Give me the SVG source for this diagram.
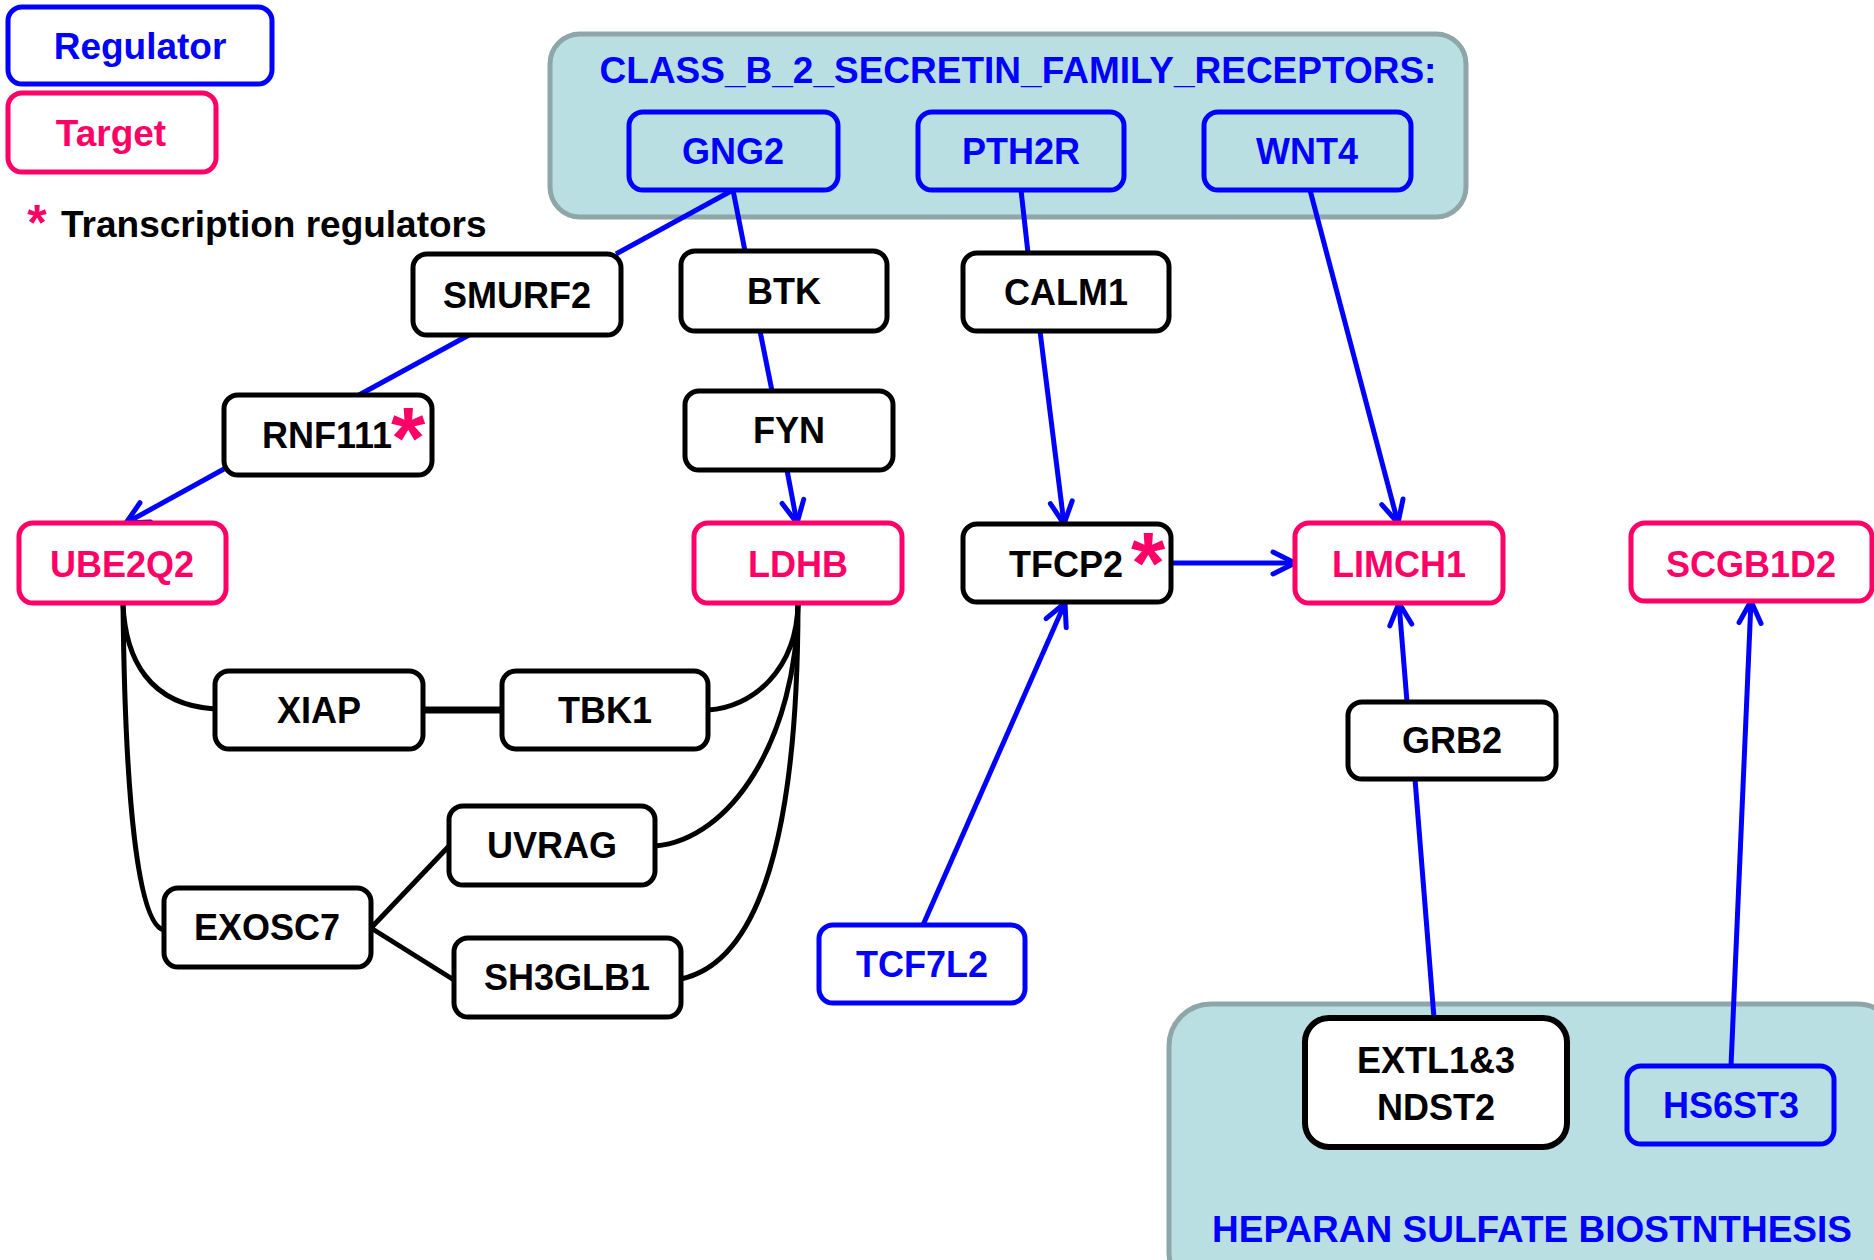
<svg xmlns="http://www.w3.org/2000/svg" width="1874" height="1260" viewBox="0 0 1874 1260">
<defs>
<style>
text{font-family:"Liberation Sans",Arial,sans-serif;font-weight:bold;font-size:36px;text-anchor:middle}
.reg rect{fill:none;stroke:#0000ff;stroke-width:5}
.reg text{fill:#0000ff}
.tgt rect{fill:#ffffff;stroke:#ff0066;stroke-width:5}
.tgt text{fill:#ff0066}
.oth rect{fill:#ffffff;stroke:#000000;stroke-width:5}
.oth text{fill:#000000}
.grp{fill:#b9dfe3;stroke:#8fa6a8;stroke-width:5}
.gtitle{fill:#0000ff;font-size:37px}
text.star{fill:#ff0066;font-size:88px}
.blue{stroke:#0000ff;stroke-width:5;fill:none}
.blk{stroke:#000000;stroke-width:5;fill:none}
</style>
<marker id="arr" viewBox="0 0 28 28" refX="25" refY="14" markerWidth="28" markerHeight="28" markerUnits="userSpaceOnUse" orient="auto">
<path d="M3,3 L25,14 L3,25" fill="none" stroke="#0000ff" stroke-width="5" stroke-linecap="round" stroke-linejoin="round"/>
</marker>
</defs>
<rect width="1874" height="1260" fill="#ffffff"/>

<g id="legend">
<g class="reg"><rect x="8" y="7" width="264" height="77" rx="14"/><text x="140" y="59" style="font-size:37px">Regulator</text></g>
<g class="tgt"><rect x="8" y="93" width="208" height="79" rx="14"/><text x="111" y="146" style="font-size:37px">Target</text></g>
<text x="37" y="240" style="fill:#ff0066;font-size:50px">*</text>
<text x="61" y="237" style="text-anchor:start;font-size:37px;fill:#000">Transcription regulators</text>
</g>

<g id="group-class-b">
<rect class="grp" x="550" y="34" width="916" height="183" rx="30"/>
<text class="gtitle" x="1018" y="83">CLASS_B_2_SECRETIN_FAMILY_RECEPTORS:</text>
</g>
<g id="group-heparan">
<rect class="grp" x="1169" y="1004" width="730" height="290" rx="42"/>
<text class="gtitle" x="1532" y="1242">HEPARAN SULFATE BIOSTNTHESIS</text>
</g>

<g id="connectors">
<line class="blue" x1="733" y1="190" x2="616" y2="254"/>
<line class="blue" x1="469" y1="335" x2="359" y2="395"/>
<line class="blue" x1="224" y1="469" x2="126" y2="523" marker-end="url(#arr)"/>
<line class="blue" x1="733" y1="190" x2="745" y2="251"/>
<line class="blue" x1="760" y1="331" x2="772" y2="391"/>
<line class="blue" x1="787" y1="470" x2="797" y2="523" marker-end="url(#arr)"/>
<line class="blue" x1="1021" y1="190" x2="1028" y2="253"/>
<line class="blue" x1="1040" y1="331" x2="1064" y2="524" marker-end="url(#arr)"/>
<line class="blue" x1="1310" y1="190" x2="1398" y2="523" marker-end="url(#arr)"/>
<line class="blue" x1="1171" y1="563" x2="1295" y2="563" marker-end="url(#arr)"/>
<line class="blue" x1="923" y1="925" x2="1065" y2="603" marker-end="url(#arr)"/>
<line class="blue" x1="1407" y1="702" x2="1399" y2="603" marker-end="url(#arr)"/>
<line class="blue" x1="1434" y1="1018" x2="1415" y2="779"/>
<line class="blue" x1="1731" y1="1066" x2="1751" y2="601" marker-end="url(#arr)"/>
<path class="blk" d="M123,603 C125,660 150,705 215,709"/>
<path class="blk" d="M123,603 C125,800 138,925 164,930"/>
<line class="blk" x1="423" y1="710" x2="502" y2="710" style="stroke-width:7"/>
<path class="blk" d="M708,710 C752,708 797,670 798,603"/>
<path class="blk" d="M655,846 C730,840 797,740 798,603"/>
<path class="blk" d="M681,979 C770,960 798,800 798,603"/>
<line class="blk" x1="371" y1="928" x2="449" y2="846"/>
<line class="blk" x1="371" y1="928" x2="454" y2="980"/>
</g>

<g id="GNG2" class="reg"><rect x="629" y="112" width="209" height="78" rx="14"/><text x="733" y="164">GNG2</text></g>
<g id="PTH2R" class="reg"><rect x="918" y="112" width="206" height="78" rx="14"/><text x="1021" y="164">PTH2R</text></g>
<g id="WNT4" class="reg"><rect x="1204" y="112" width="207" height="78" rx="14"/><text x="1307" y="164">WNT4</text></g>
<g id="SMURF2" class="oth"><rect x="413" y="254" width="208" height="81" rx="14"/><text x="517" y="308">SMURF2</text></g>
<g id="BTK" class="oth"><rect x="681" y="251" width="206" height="80" rx="14"/><text x="784" y="304">BTK</text></g>
<g id="CALM1" class="oth"><rect x="963" y="253" width="206" height="78" rx="14"/><text x="1066" y="305">CALM1</text></g>
<g id="RNF111" class="oth"><rect x="224" y="395" width="208" height="80" rx="14"/><text x="327" y="448">RNF111</text><text class="star" x="408" y="468">*</text></g>
<g id="FYN" class="oth"><rect x="685" y="391" width="208" height="79" rx="14"/><text x="789" y="443">FYN</text></g>
<g id="UBE2Q2" class="tgt"><rect x="19" y="523" width="207" height="80" rx="14"/><text x="122" y="577">UBE2Q2</text></g>
<g id="LDHB" class="tgt"><rect x="694" y="523" width="208" height="80" rx="14"/><text x="798" y="577">LDHB</text></g>
<g id="TFCP2" class="oth"><rect x="963" y="524" width="208" height="78" rx="14"/><text x="1066" y="577">TFCP2</text><text class="star" x="1148" y="593">*</text></g>
<g id="LIMCH1" class="tgt"><rect x="1295" y="523" width="208" height="80" rx="14"/><text x="1399" y="577">LIMCH1</text></g>
<g id="SCGB1D2" class="tgt"><rect x="1631" y="523" width="241" height="78" rx="14"/><text x="1751" y="577">SCGB1D2</text></g>
<g id="XIAP" class="oth"><rect x="215" y="671" width="208" height="78" rx="14"/><text x="319" y="723">XIAP</text></g>
<g id="TBK1" class="oth"><rect x="502" y="671" width="206" height="78" rx="14"/><text x="605" y="723">TBK1</text></g>
<g id="GRB2" class="oth"><rect x="1348" y="702" width="208" height="77" rx="14"/><text x="1452" y="753">GRB2</text></g>
<g id="UVRAG" class="oth"><rect x="449" y="806" width="206" height="79" rx="14"/><text x="552" y="858">UVRAG</text></g>
<g id="EXOSC7" class="oth"><rect x="164" y="888" width="207" height="79" rx="14"/><text x="267" y="940">EXOSC7</text></g>
<g id="SH3GLB1" class="oth"><rect x="454" y="938" width="227" height="79" rx="14"/><text x="567" y="990">SH3GLB1</text></g>
<g id="TCF7L2" class="reg"><rect x="819" y="925" width="206" height="78" rx="14" style="fill:#fff"/><text x="922" y="977">TCF7L2</text></g>
<g id="EXTL" class="oth"><rect x="1305" y="1018" width="262" height="129" rx="24" style="stroke-width:6"/><text x="1436" y="1073">EXTL1&amp;3</text><text x="1436" y="1120">NDST2</text></g>
<g id="HS6ST3" class="reg"><rect x="1627" y="1066" width="207" height="78" rx="14"/><text x="1731" y="1118">HS6ST3</text></g>
</svg>
